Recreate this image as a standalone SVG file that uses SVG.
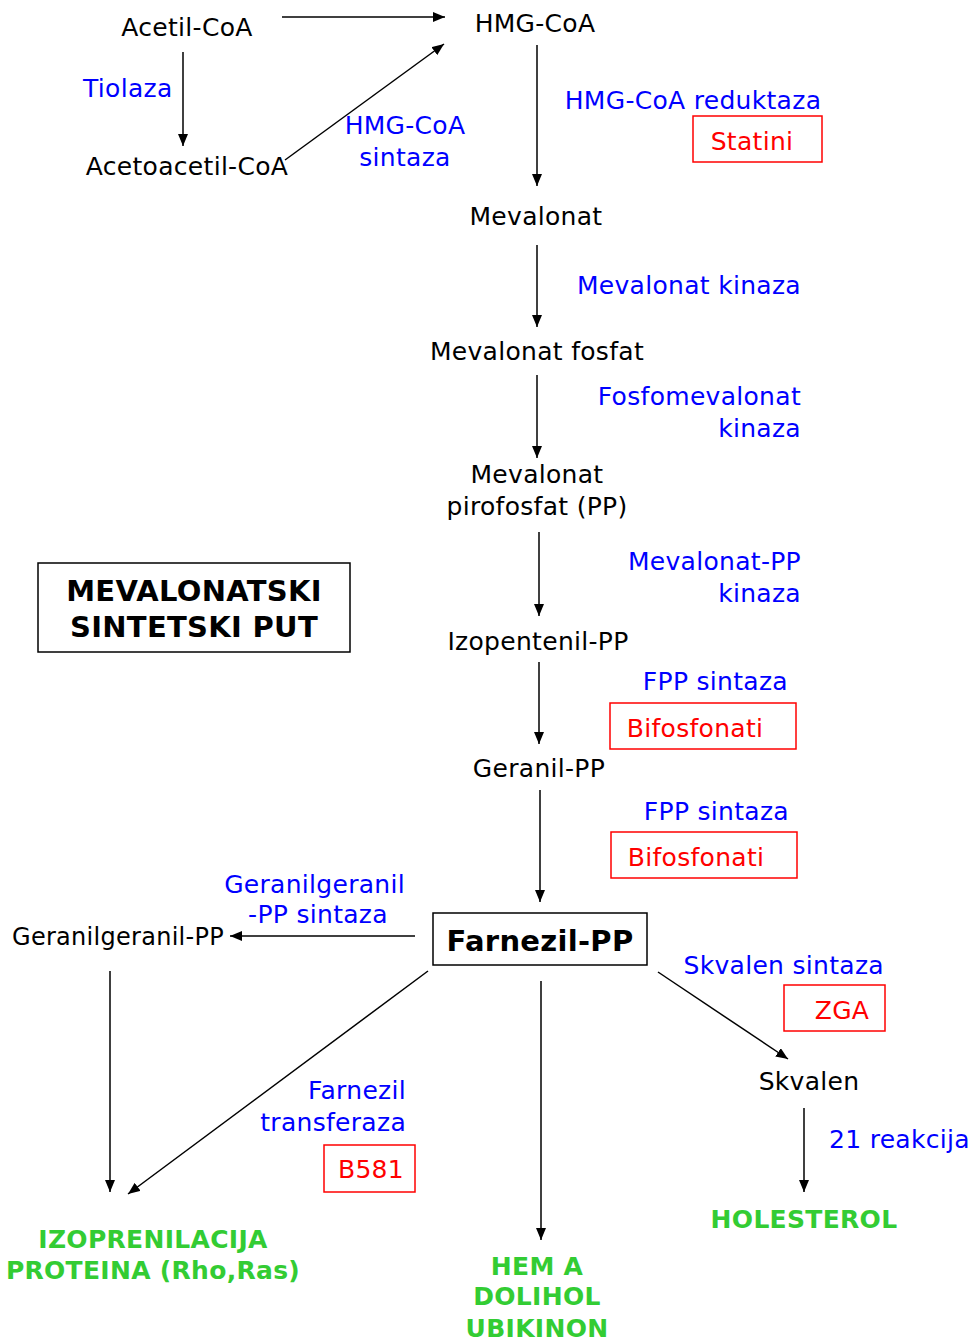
<svg xmlns="http://www.w3.org/2000/svg" width="975" height="1344" viewBox="0 0 975 1344">
<style>
text{font-family:"DejaVu Sans","Liberation Sans",sans-serif;font-size:25px;letter-spacing:0.3px}
.k{fill:#000}
.b{fill:#0000ff}
.r{fill:#ff0000}
.g{fill:#33cc33;font-weight:bold}
.c{text-anchor:middle}
.e{text-anchor:end}
.bold{font-weight:bold;font-size:29px}
.rb{fill:none;stroke:#ff0000;stroke-width:1.5}
.nb{fill:none;stroke:#000;stroke-width:1.5}
.cn line{stroke:#000;stroke-width:1.5;marker-end:url(#ah)}
</style>
<defs>
<marker id="ah" viewBox="0 0 12 10" refX="12" refY="5" markerWidth="12" markerHeight="10" markerUnits="userSpaceOnUse" orient="auto"><path d="M0,0 L12,5 L0,10 z" fill="#000"/></marker>
</defs>
<g class="cn">
<line x1="282" y1="17" x2="445" y2="17"/>
<line x1="183" y1="52" x2="183" y2="146"/>
<line x1="285" y1="160" x2="444" y2="44"/>
<line x1="537" y1="45" x2="537" y2="186"/>
<line x1="537" y1="245" x2="537" y2="327"/>
<line x1="537" y1="375" x2="537" y2="458"/>
<line x1="539" y1="532" x2="539" y2="616"/>
<line x1="539" y1="662" x2="539" y2="744"/>
<line x1="540" y1="790" x2="540" y2="902"/>
<line x1="415" y1="936" x2="230" y2="936"/>
<line x1="110" y1="971" x2="110" y2="1192"/>
<line x1="428" y1="971" x2="128" y2="1194"/>
<line x1="541" y1="981" x2="541" y2="1240"/>
<line x1="658" y1="972" x2="788" y2="1059"/>
<line x1="804" y1="1108" x2="804" y2="1192"/>
</g>
<g id="acetilcoa"><text class="k c" x="187" y="36">Acetil-CoA</text></g>
<g id="hmgcoa"><text class="k c" x="535" y="32">HMG-CoA</text></g>
<g id="tiolaza"><text class="b" x="83" y="97">Tiolaza</text></g>
<g id="acetoacetilcoa"><text class="k c" x="187" y="175">Acetoacetil-CoA</text></g>
<g id="hmgsintaza"><text class="b c" x="405" y="134">HMG-CoA</text><text class="b c" x="405" y="166">sintaza</text></g>
<g id="reduktaza"><text class="b c" x="693" y="109">HMG-CoA reduktaza</text></g>
<g id="statini"><rect class="rb" x="693" y="116" width="129" height="46"/><text class="r c" x="752" y="150">Statini</text></g>
<g id="mevalonat"><text class="k c" x="536" y="225">Mevalonat</text></g>
<g id="mevkinaza"><text class="b e" x="801" y="294">Mevalonat kinaza</text></g>
<g id="mevfosfat"><text class="k c" x="537" y="360">Mevalonat fosfat</text></g>
<g id="fosfomev"><text class="b e" x="801" y="405">Fosfomevalonat</text><text class="b e" x="801" y="437">kinaza</text></g>
<g id="mevpp"><text class="k c" x="537" y="483">Mevalonat</text><text class="k c" x="537" y="515">pirofosfat (PP)</text></g>
<g id="mevppkinaza"><text class="b e" x="801" y="570">Mevalonat-PP</text><text class="b e" x="801" y="602">kinaza</text></g>
<g id="title"><rect class="nb" x="38" y="563" width="312" height="89"/><text class="k c bold" x="194" y="601">MEVALONATSKI</text><text class="k c bold" x="194" y="637">SINTETSKI PUT</text></g>
<g id="izopentenil"><text class="k c" x="538" y="650">Izopentenil-PP</text></g>
<g id="fpp1"><text class="b e" x="788" y="690">FPP sintaza</text></g>
<g id="bif1"><rect class="rb" x="610" y="703" width="186" height="46"/><text class="r c" x="695" y="737">Bifosfonati</text></g>
<g id="geranil"><text class="k c" x="539" y="777">Geranil-PP</text></g>
<g id="fpp2"><text class="b e" x="789" y="820">FPP sintaza</text></g>
<g id="bif2"><rect class="rb" x="611" y="832" width="186" height="46"/><text class="r c" x="696" y="866">Bifosfonati</text></g>
<g id="farnezil"><rect class="nb" x="433" y="913" width="214" height="52"/><text class="k c bold" x="540" y="951">Farnezil-PP</text></g>
<g id="ggsintaza"><text class="b e" x="405" y="893">Geranilgeranil</text><text class="b c" x="318" y="923">-PP sintaza</text></g>
<g id="ggpp"><text class="k" x="12" y="945" textLength="212" lengthAdjust="spacingAndGlyphs">Geranilgeranil-PP</text></g>
<g id="ftransferaza"><text class="b e" x="406" y="1099">Farnezil</text><text class="b e" x="406" y="1131">transferaza</text></g>
<g id="b581"><rect class="rb" x="324" y="1145" width="91" height="47"/><text class="r c" x="371" y="1178">B581</text></g>
<g id="skvsintaza"><text class="b e" x="884" y="974">Skvalen sintaza</text></g>
<g id="zga"><rect class="rb" x="784" y="985" width="101" height="46"/><text class="r c" x="842" y="1019">ZGA</text></g>
<g id="skvalen"><text class="k c" x="809" y="1090">Skvalen</text></g>
<g id="reakcija"><text class="b" x="829" y="1148">21 reakcija</text></g>
<g id="holesterol"><text class="g c" x="804" y="1228">HOLESTEROL</text></g>
<g id="izoprenilacija"><text class="g c" x="153" y="1248">IZOPRENILACIJA</text><text class="g c" x="153" y="1279">PROTEINA (Rho,Ras)</text></g>
<g id="hem"><text class="g c" x="537" y="1275">HEM A</text><text class="g c" x="537" y="1305">DOLIHOL</text><text class="g c" x="537" y="1337">UBIKINON</text></g>
</svg>
